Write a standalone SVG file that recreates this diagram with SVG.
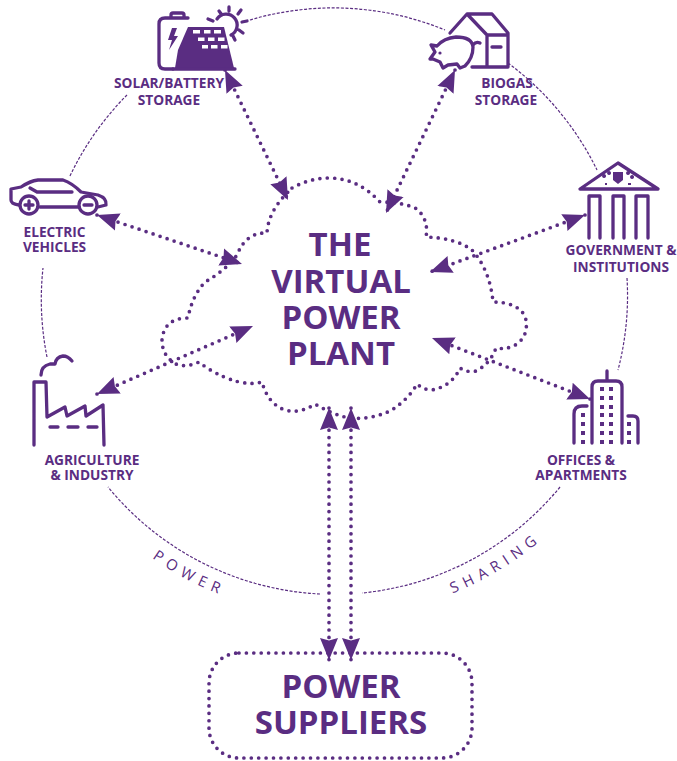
<svg xmlns="http://www.w3.org/2000/svg" width="677" height="761" viewBox="0 0 677 761">
<style>
text{font-family:"Open Sans","Noto Sans","Liberation Sans",sans-serif;font-weight:700;fill:#5a2d82;text-anchor:middle}
.lb{font-size:13.7px}
.big{font-size:33px}
.arc{font-size:15px;font-weight:400;letter-spacing:5.8px;text-anchor:start}
.ring{fill:none;stroke:#5a2d82;stroke-width:1.2;stroke-dasharray:3 1.6}
.dot{fill:none;stroke:#5a2d82;stroke-width:3.7;stroke-linecap:round;stroke-dasharray:0 7.4}
.arw{fill:none;stroke:#5a2d82;stroke-width:3.7;stroke-linecap:round;stroke-dasharray:0 7.4;marker-start:url(#h);marker-end:url(#h)}
.ic{fill:none;stroke:#5a2d82;stroke-width:3.3;stroke-linecap:round;stroke-linejoin:round}
.fl{fill:#5a2d82}
.wh{fill:#fff}
</style>
<defs>
<marker id="h" markerUnits="userSpaceOnUse" markerWidth="24" markerHeight="22" refX="22" refY="11" orient="auto-start-reverse"><path d="M0,2 L22,11 L0,20 L2.5,11 Z" fill="#5a2d82"/></marker>
</defs>
<g id="ring">
<path class="ring" d="M250,20 A293,293 0 0 1 445,30"/>
<path class="ring" d="M508,63 A293,293 0 0 1 597,170"/>
<path class="ring" d="M627,278 A293,293 0 0 1 618,370"/>
<path class="ring" d="M560,487 A293,293 0 0 1 362,593"/>
<path class="ring" d="M320,594 A293,293 0 0 1 108,487"/>
<path class="ring" d="M47,357 A293,293 0 0 1 43,268"/>
<path class="ring" d="M70,176 A293,293 0 0 1 127,95"/>
<path id="pp" fill="none" d="M152,558 A316,316 0 0 0 335,616"/>
<path id="sp" fill="none" d="M452.5,593.3 A316,316 0 0 0 610,457"/>
<text class="arc"><textPath href="#pp">POWER</textPath></text>
<text class="arc"><textPath href="#sp">SHARING</textPath></text>
</g>
<g id="virtual-power-plant">
<path class="dot" d="M292,188 Q310,178 329,178 Q358,178 380,202 Q403,202 417,209 Q429,220 426,237 Q456,238 472,250 Q490,270 493,302 Q517,302 525,316 Q530,334 517,344 Q508,350 496,348 Q490,364 476,371 Q468,373 460,368 Q452,386 432,390 Q424,390 417,384 Q408,400 390,411 Q370,420 350,418 Q336,416 315,404 Q300,414 285,410 Q268,404 262,382 Q240,388 207,368 L199,362 Q186,368 176,364 Q162,356 162,340 Q164,318 188,318 Q192,296 205,282 Q226,270 237,255 Q246,232 267,233 Q268,212 288,192"/>
<text class="big" x="340" y="256">THE</text>
<text class="big" x="341" y="293">VIRTUAL</text>
<text class="big" x="341" y="329">POWER</text>
<text class="big" x="341" y="365">PLANT</text>
</g>
<g id="power-suppliers">
<rect class="dot" x="209" y="653" width="263" height="105" rx="30"/>
<text class="big" x="341" y="698">POWER</text>
<text class="big" x="341" y="734">SUPPLIERS</text>
</g>
<g id="connectors">
<path class="arw" d="M225,70 L288,200"/>
<path class="arw" d="M455,70 L386,213"/>
<path class="arw" d="M97,215 L242,264"/>
<path class="arw" d="M585,215 L430,272"/>
<path class="arw" d="M97,394 L253,326"/>
<path class="arw" d="M590,399 L432,338"/>
<path class="arw" d="M329,408 L329,660"/>
<path class="arw" d="M351,408 L351,660"/>
</g>
<g id="solar-battery-storage">
<path class="ic" d="M173,69 H165 Q159,69 159,63 V24 Q159,18 165,18 H188"/>
<path class="ic" d="M171,17 V15 Q171,13 173,13 H182 Q184,13 184,15 V17"/>
<path class="fl" d="M172,28 L168,40 L172,40 L169,50 L178,36 L174,36 L177,28 Z"/>
<path class="fl" d="M188,27 H224 L234,68 H175 L178,50 Z"/>
<path class="ic" d="M173,69 H235"/>
<g class="wh"><rect x="193" y="30" width="7" height="3.5"/><rect x="204" y="30" width="6.5" height="3.5"/><rect x="214" y="30" width="7" height="3.5"/><rect x="198" y="37.5" width="6.5" height="3.5"/><rect x="208" y="37.5" width="6.5" height="3.5"/><rect x="218" y="37.5" width="6.5" height="3.5"/><rect x="202" y="45" width="6" height="3.5"/><rect x="211" y="45" width="6.5" height="3.5"/><rect x="221" y="45" width="6.5" height="3.5"/></g>
<path class="ic" d="M217,19 A11,11 0 1 1 231,35 M219,11 L222,15 M229,7 V11 M241,10 L238,14 M247,21 L242,22 M243,33 L239,30 M235,40 L233,36 M208,19 L213,21"/>
<text class="lb" x="169" y="88">SOLAR/BATTERY</text>
<text class="lb" x="169" y="105">STORAGE</text>
</g>
<g id="biogas-storage">
<path class="ic" d="M450,33 L467,14 H492 L508,33 V67 H472 M467,14 L487,35 H508 M487,35 V67 M492,47 H501"/>
<path class="ic" d="M431,45 L437,46 Q444,38 456,37 Q472,37 473,47 Q473,58 465,66 L460,68 L457,64 L448,65 L443,68 L440,62 L433,59 L430,59 L435,52 Z M473,45 Q476,41 480,43"/>
<circle class="fl" cx="440" cy="53" r="1.6"/>
<text class="lb" x="507" y="88">BIOGAS</text>
<text class="lb" x="506" y="105">STORAGE</text>
</g>
<g id="electric-vehicles">
<path class="ic" d="M19,205 Q11,204 11,200 V189 L21,187 Q30,181 38,180 H63 Q72,183 81,192 L98,195 Q107,198 106,205 L98,207 M79,207 H40"/>
<path class="ic" d="M30,188 L37,192 H72"/>
<circle class="ic" cx="29" cy="205" r="9"/>
<circle class="ic" cx="88" cy="205" r="9"/>
<path class="ic" d="M25,205 H33 M29,201 V209 M84,205 H92"/>
<text class="lb" x="54.5" y="237">ELECTRIC</text>
<text class="lb" x="54.5" y="252">VEHICLES</text>
</g>
<g id="government">
<path class="ic" d="M618,163 L658,189 H580 Z"/>
<path class="fl" d="M613,172 H623 V180 L618,184 L613,180 Z"/>
<path class="fl" d="M604,178 a2,2 0 1 1 .1,0 Z M609,175 a2,2 0 1 1 .1,0 Z M628,175 a2,2 0 1 1 .1,0 Z M632,179 a2,2 0 1 1 .1,0 Z M605,183 h2 v2 h-2z M628,183 h3 v2 h-3z"/>
<path class="ic" d="M589,238 V196 H600 V238 M613,238 V196 H624 V238 M636,238 V196 H648 V238"/>
<text class="lb" x="621" y="255">GOVERNMENT &amp;</text>
<text class="lb" x="621" y="272">INSTITUTIONS</text>
</g>
<g id="agriculture-industry">
<path class="ic" d="M34,445 V382 H46 L47,417 L65,407 L67,416 L85,406 L86,416 L103,405 L104,445"/>
<path class="ic" d="M50,427 H58 M68,427 H78 M88,427 H97"/>
<path class="ic" d="M41,375 Q41,366 50,364 L55,364 Q56,357 63,356 Q68,356 72,361"/>
<text class="lb" x="92" y="465">AGRICULTURE</text>
<text class="lb" x="92" y="480">&amp; INDUSTRY</text>
</g>
<g id="offices-apartments">
<path class="ic" d="M592,443 V387 Q592,381 598,381 H616 Q622,381 622,387 V443 M607,380 V371"/>
<path class="ic" d="M574,443 V414 Q574,406 582,406 H587 M628,416 H633 Q638,416 638,421 V443"/>
<path class="fl" d="M600,387h4v4h-4z M609,387h4v4h-4z M600,396h4v4h-4z M609,396h4v4h-4z M600,405h4v4h-4z M609,405h4v4h-4z M600,413h4v4h-4z M609,413h4v4h-4z M600,422h4v4h-4z M609,422h4v4h-4z M600,431h4v4h-4z M609,431h4v4h-4z M600,440h4v4h-4z M609,440h4v4h-4z M581,413h4v4h-4z M581,422h4v4h-4z M581,431h4v4h-4z M581,440h4v4h-4z M627,422h4v4h-4z M627,431h4v4h-4z M627,440h4v4h-4z"/>
<text class="lb" x="581" y="465">OFFICES &amp;</text>
<text class="lb" x="581" y="480">APARTMENTS</text>
</g>
</svg>
